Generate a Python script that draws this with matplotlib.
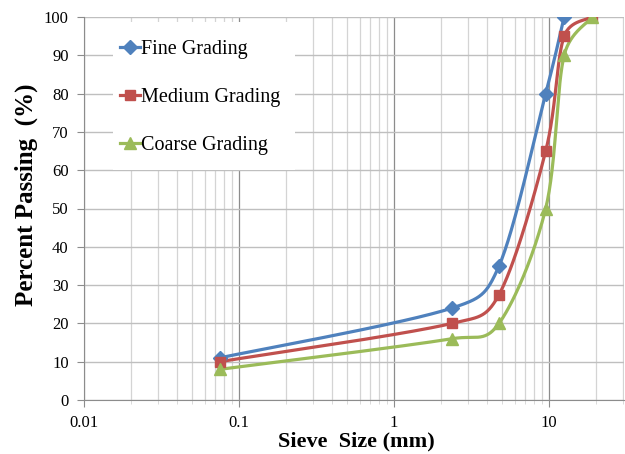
import numpy as np
import matplotlib
matplotlib.use("Agg")
import matplotlib.pyplot as plt
from matplotlib.patches import Rectangle
from matplotlib.ticker import LogLocator, FixedLocator, FixedFormatter, NullFormatter

# sieve sizes (mm) and percent passing
fine_x = [0.075, 2.36, 4.75, 9.5, 12.5]
fine_y = [11, 24, 35, 80, 100]
medium_x = [0.075, 2.36, 4.75, 9.5, 12.5, 19]
medium_y = [10, 20, 27.5, 65, 95, 100]
coarse_x = [0.075, 2.36, 4.75, 9.5, 12.5, 19]
coarse_y = [8, 16, 20, 50, 90, 100]

labels = ["Fine Grading", "Medium Grading", "Coarse Grading"]
colors = ["#4F81BD", "#C0504D", "#9BBB59"]
markers = ["D", "s", "^"]
msizes = [7.5, 7.5, 8.5]

plt.rcParams['font.family'] = ['Liberation Serif', 'DejaVu Serif']

# pixel scale of the plot (per decade / per percent), used for smoothing
PX_DEC = 155.3
PX_PCT = 3.83


def smooth(xs, ys, n=50, clamp=0.5):
    """Excel-like smoothed line: catmull-rom bezier in screen space,
    control arms clamped so short segments do not overshoot"""
    u = np.log10(np.asarray(xs, float)) * PX_DEC
    v = np.asarray(ys, float) * PX_PCT
    P = np.column_stack([u, v])
    P = np.vstack([P[0], P, P[-1]])
    out = []
    t = np.linspace(0, 1, n)[:, None]
    for i in range(1, len(P) - 2):
        p0, p1, p2, p3 = P[i - 1], P[i], P[i + 1], P[i + 2]
        d12 = np.hypot(*(p2 - p1))
        a = (p2 - p0) / 6.0
        b = (p3 - p1) / 6.0
        la, lb = np.hypot(*a), np.hypot(*b)
        if la > clamp * d12:
            a = a * clamp * d12 / la
        if lb > clamp * d12:
            b = b * clamp * d12 / lb
        c1 = p1 + a
        c2 = p2 - b
        seg = ((1 - t) ** 3) * p1 + 3 * ((1 - t) ** 2) * t * c1 + 3 * (1 - t) * t ** 2 * c2 + t ** 3 * p2
        out.append(seg)
    out = np.vstack(out)
    return 10 ** (out[:, 0] / PX_DEC), out[:, 1] / PX_PCT


fig = plt.figure(figsize=(6.25, 4.54), dpi=100)
ax = fig.add_axes([84 / 625, 1 - 400 / 454, 540 / 625, 383 / 454])

series = [(fine_x, fine_y), (medium_x, medium_y), (coarse_x, coarse_y)]
for (xs, ys), lab, c, m, ms in zip(series, labels, colors, markers, msizes):
    sx, sy = smooth(xs, ys)
    ax.plot(sx, sy, color=c, lw=2.3, zorder=3, solid_capstyle='round')
    ax.plot(xs, ys, linestyle='none', marker=m, ms=ms, color=c, zorder=4)
    ax.plot([], [], color=c, lw=2.3, marker=m, ms=ms, label=lab)

ax.set_xscale('log')
ax.set_xlim(0.01, 30.4)
ax.set_ylim(0, 100)
ax.set_yticks(np.arange(0, 101, 10))
ax.xaxis.set_major_locator(FixedLocator([0.01, 0.1, 1, 10]))
ax.xaxis.set_major_formatter(FixedFormatter(["0.01", "0.1", "1", "10"]))
ax.xaxis.set_minor_locator(LogLocator(base=10, subs=np.arange(2, 10), numticks=20))
ax.xaxis.set_minor_formatter(NullFormatter())

ax.set_axisbelow(True)
ax.grid(True, which='major', axis='both', color='#8c8c8c', lw=0.9)
ax.grid(True, which='minor', axis='x', color='#d4d4d4', lw=0.9)
ax.yaxis.grid(True, color='#bfbfbf', lw=1.0)

for s in ['top', 'right']:
    ax.spines[s].set_visible(False)
for s in ['left', 'bottom']:
    ax.spines[s].set_color('#8c8c8c')
ax.tick_params(which='major', length=5, color='#8c8c8c', labelsize=12, pad=6)
ax.tick_params(which='minor', length=3, color='#d4d4d4')

# white legend area
ax.add_patch(Rectangle((0.054, 0.60), 0.337, 0.387, transform=ax.transAxes,
                       facecolor='white', edgecolor='none', zorder=1))
ax.legend(loc='upper left', bbox_to_anchor=(0.066, 0.941), frameon=False,
          fontsize=14.5, labelspacing=1.45, handlelength=1.0, handletextpad=0.05,
          borderpad=0, borderaxespad=0)

ax.set_xlabel("Sieve  Size (mm)", fontsize=16, fontweight='bold')
ax.xaxis.set_label_coords((356 - 84) / 540, (400 - 446) / 383)
ax.xaxis.label.set_va('baseline')
ax.set_ylabel("Percent Passing  (%)", fontsize=18, fontweight='bold')
ax.yaxis.set_label_coords(-0.085, (400 - 195) / 383)

fig.savefig("out.png", dpi=100)
